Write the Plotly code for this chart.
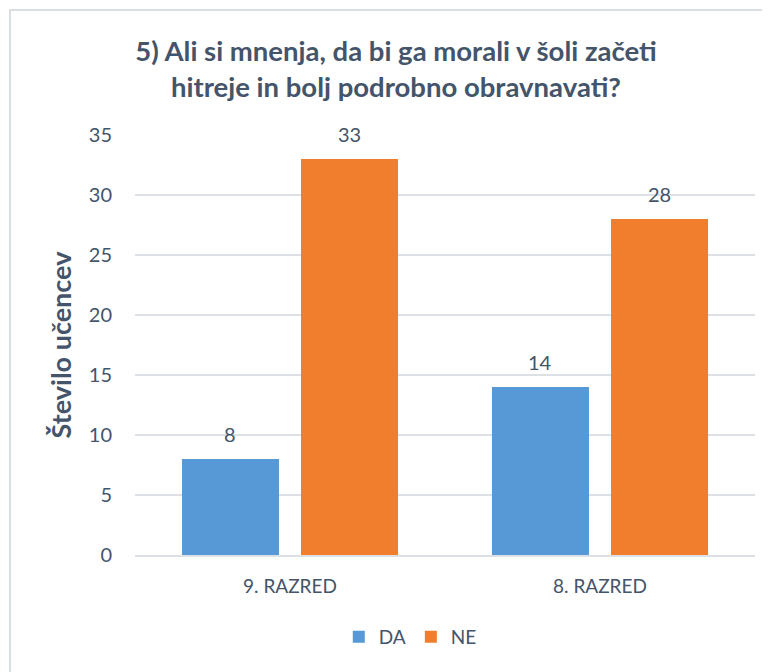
import plotly.graph_objects as go

categories = ["9. RAZRED", "8. RAZRED"]
da_values = [8, 14]
ne_values = [33, 28]
series_names = ["DA", "NE"]
y_ticks = [0, 5, 10, 15, 20, 25, 30, 35]

TXT = "#44546A"
FONT = "Lato, 'Open Sans', sans-serif"
COLORS = ["#5699D6", "#F07E2C"]

# page is offset by 8px body margin; figure coordinates below
L, R, T, B = 127, 23, 127, 125
W, H = 770, 672
pw, ph = W - L - R, H - T - B
BARGAP, GROUPGAP = 0.232, 0.185
slot_px = pw / len(categories) * (1 - BARGAP) / 2

fig = go.Figure()
annotations = []
for i, (name, vals) in enumerate(zip(series_names, [da_values, ne_values])):
    fig.add_trace(go.Bar(
        x=categories, y=vals, name=name,
        marker=dict(color=COLORS[i], line=dict(width=0)),
    ))
    shift = (i - 0.5) * slot_px
    for c, v in zip(categories, vals):
        annotations.append(dict(
            x=c, y=v, xref="x", yref="y", text=str(v), showarrow=False,
            xshift=shift, yshift=25, yanchor="middle", xanchor="center",
            font=dict(size=20, color=TXT, family=FONT),
        ))

def px_x(p):
    return (p - L) / pw

def px_y(p):
    return (H - B - p) / ph

fig.update_layout(
    width=W, height=H,
    margin=dict(l=L, r=R, t=T, b=B),
    paper_bgcolor="white", plot_bgcolor="white",
    barmode="group", bargap=BARGAP, bargroupgap=GROUPGAP,
    font=dict(family=FONT, color=TXT),
    title=dict(
        text="<b>5) Ali si mnenja, da bi ga morali v šoli začeti<br>hitreje in bolj podrobno obravnavati?</b>",
        x=388 / W, xanchor="center", y=1 - 53 / H, yanchor="middle",
        font=dict(size=27.5, color=TXT, family=FONT),
    ),
    yaxis=dict(
        range=[0, 35], tickvals=y_ticks, showgrid=True,
        gridcolor="#DDE1E6", gridwidth=1.5, zeroline=False,
        showline=False, ticks="", ticklabelstandoff=22,
        tickfont=dict(size=20, color=TXT, family=FONT),
        title=dict(text="<b>Število učencev</b>", standoff=9,
                   font=dict(size=27, color=TXT, family=FONT)),
    ),
    xaxis=dict(
        showline=True, linecolor="#DDE1E6", linewidth=1.5,
        ticks="", showgrid=False, ticklabelstandoff=13,
        tickfont=dict(size=19, color=TXT, family=FONT),
    ),
    legend=dict(
        orientation="h", x=0.444, xanchor="center",
        y=px_y(629), yanchor="middle",
        font=dict(size=19, color=TXT, family=FONT),
        itemwidth=30, traceorder="normal",
    ),
    annotations=annotations,
    shapes=[dict(
        type="rect", xref="paper", yref="paper",
        x0=px_x(2), x1=px_x(790), y0=px_y(700), y1=px_y(2),
        line=dict(color="#D9DEE4", width=2), fillcolor="rgba(0,0,0,0)",
        layer="below",
    )],
    showlegend=True,
)

fig.write_html("out.html")
